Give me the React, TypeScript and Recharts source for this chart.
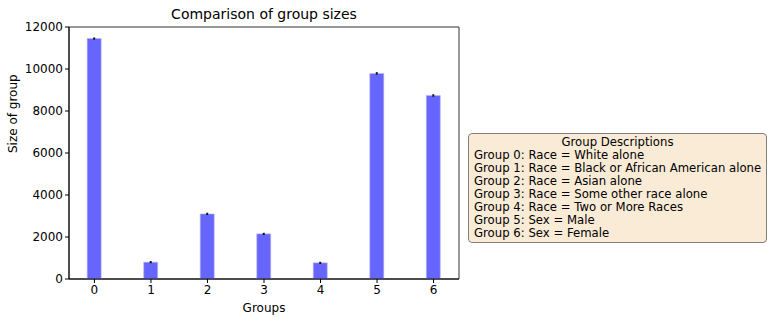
import React from 'react';
import { BarChart, Bar, XAxis, YAxis, ErrorBar, ReferenceArea } from 'recharts';

// ─── Data ──────────────────────────────────────────────────────────────────────
const GROUPS = [0, 1, 2, 3, 4, 5, 6];
const SIZES = [11450, 800, 3100, 2150, 770, 9790, 8740];
const ERRORS = [25, 25, 30, 25, 25, 30, 30];
const Y_TICKS = [0, 2000, 4000, 6000, 8000, 10000, 12000];
const DESCRIPTIONS = [
    'Group 0: Race = White alone',
    'Group 1: Race = Black or African American alone',
    'Group 2: Race = Asian alone',
    'Group 3: Race = Some other race alone',
    'Group 4: Race = Two or More Races',
    'Group 5: Sex = Male',
    'Group 6: Sex = Female',
];

const FONT = '"DejaVu Sans", sans-serif';
const tick = { fill: '#000', fontSize: 12, fontFamily: FONT };

export default function App() {
    const data = GROUPS.map((g, i) => ({ group: g, size: SIZES[i], err: ERRORS[i] }));
    return (
        <div style={{ position: 'absolute', left: 0, top: 0, width: 773, height: 323, background: '#fff', fontFamily: FONT }}>
            <BarChart width={773} height={323} data={data} margin={{ top: 27, right: 314, left: 9, bottom: 14 }}>
                <XAxis dataKey="group" type="number" domain={[-0.45, 6.45]} ticks={GROUPS}
                    allowDataOverflow tick={tick} tickLine={{ stroke: '#000' }} axisLine={{ stroke: '#000' }}
                    tickSize={4} height={30}
                    label={{ value: 'Groups', position: 'insideBottom', offset: -3, fill: '#000', fontSize: 12, fontFamily: FONT }} />
                <YAxis domain={[0, 12000]} ticks={Y_TICKS} tick={tick} tickLine={{ stroke: '#000' }}
                    axisLine={{ stroke: '#000' }} tickSize={4} width={60}
                    label={{ value: 'Size of group', angle: -90, position: 'insideLeft', offset: 0, dx: 4, fill: '#000', fontSize: 12, fontFamily: FONT }} />
                <Bar dataKey="size" fill="#6666FF" stroke="#b8b8e8" strokeWidth={0.6} barSize={14} isAnimationActive={false}>
                    <ErrorBar dataKey="err" width={1} stroke="#000" strokeWidth={1} direction="y" />
                </Bar>
                <ReferenceArea x1={-0.45} x2={6.45} y1={0} y2={12000} fill="none" stroke="#333" strokeWidth={1} />
                <text x={264} y={19} textAnchor="middle" fontSize={14} fontFamily={FONT} fill="#000">Comparison of group sizes</text>
            </BarChart>
            <div style={{
                position: 'absolute', left: 468, top: 133, width: 299, height: 110,
                background: '#FAEBD7', border: '1px solid #808080', borderRadius: 4,
                boxSizing: 'border-box', fontSize: 11.7, lineHeight: '13px', color: '#000', padding: '2px 0 0 5px',
            }}>
                <div style={{ textAlign: 'center', paddingRight: 5 }}>Group Descriptions</div>
                {DESCRIPTIONS.map(d => <div key={d}>{d}</div>)}
            </div>
        </div>
    );
}
